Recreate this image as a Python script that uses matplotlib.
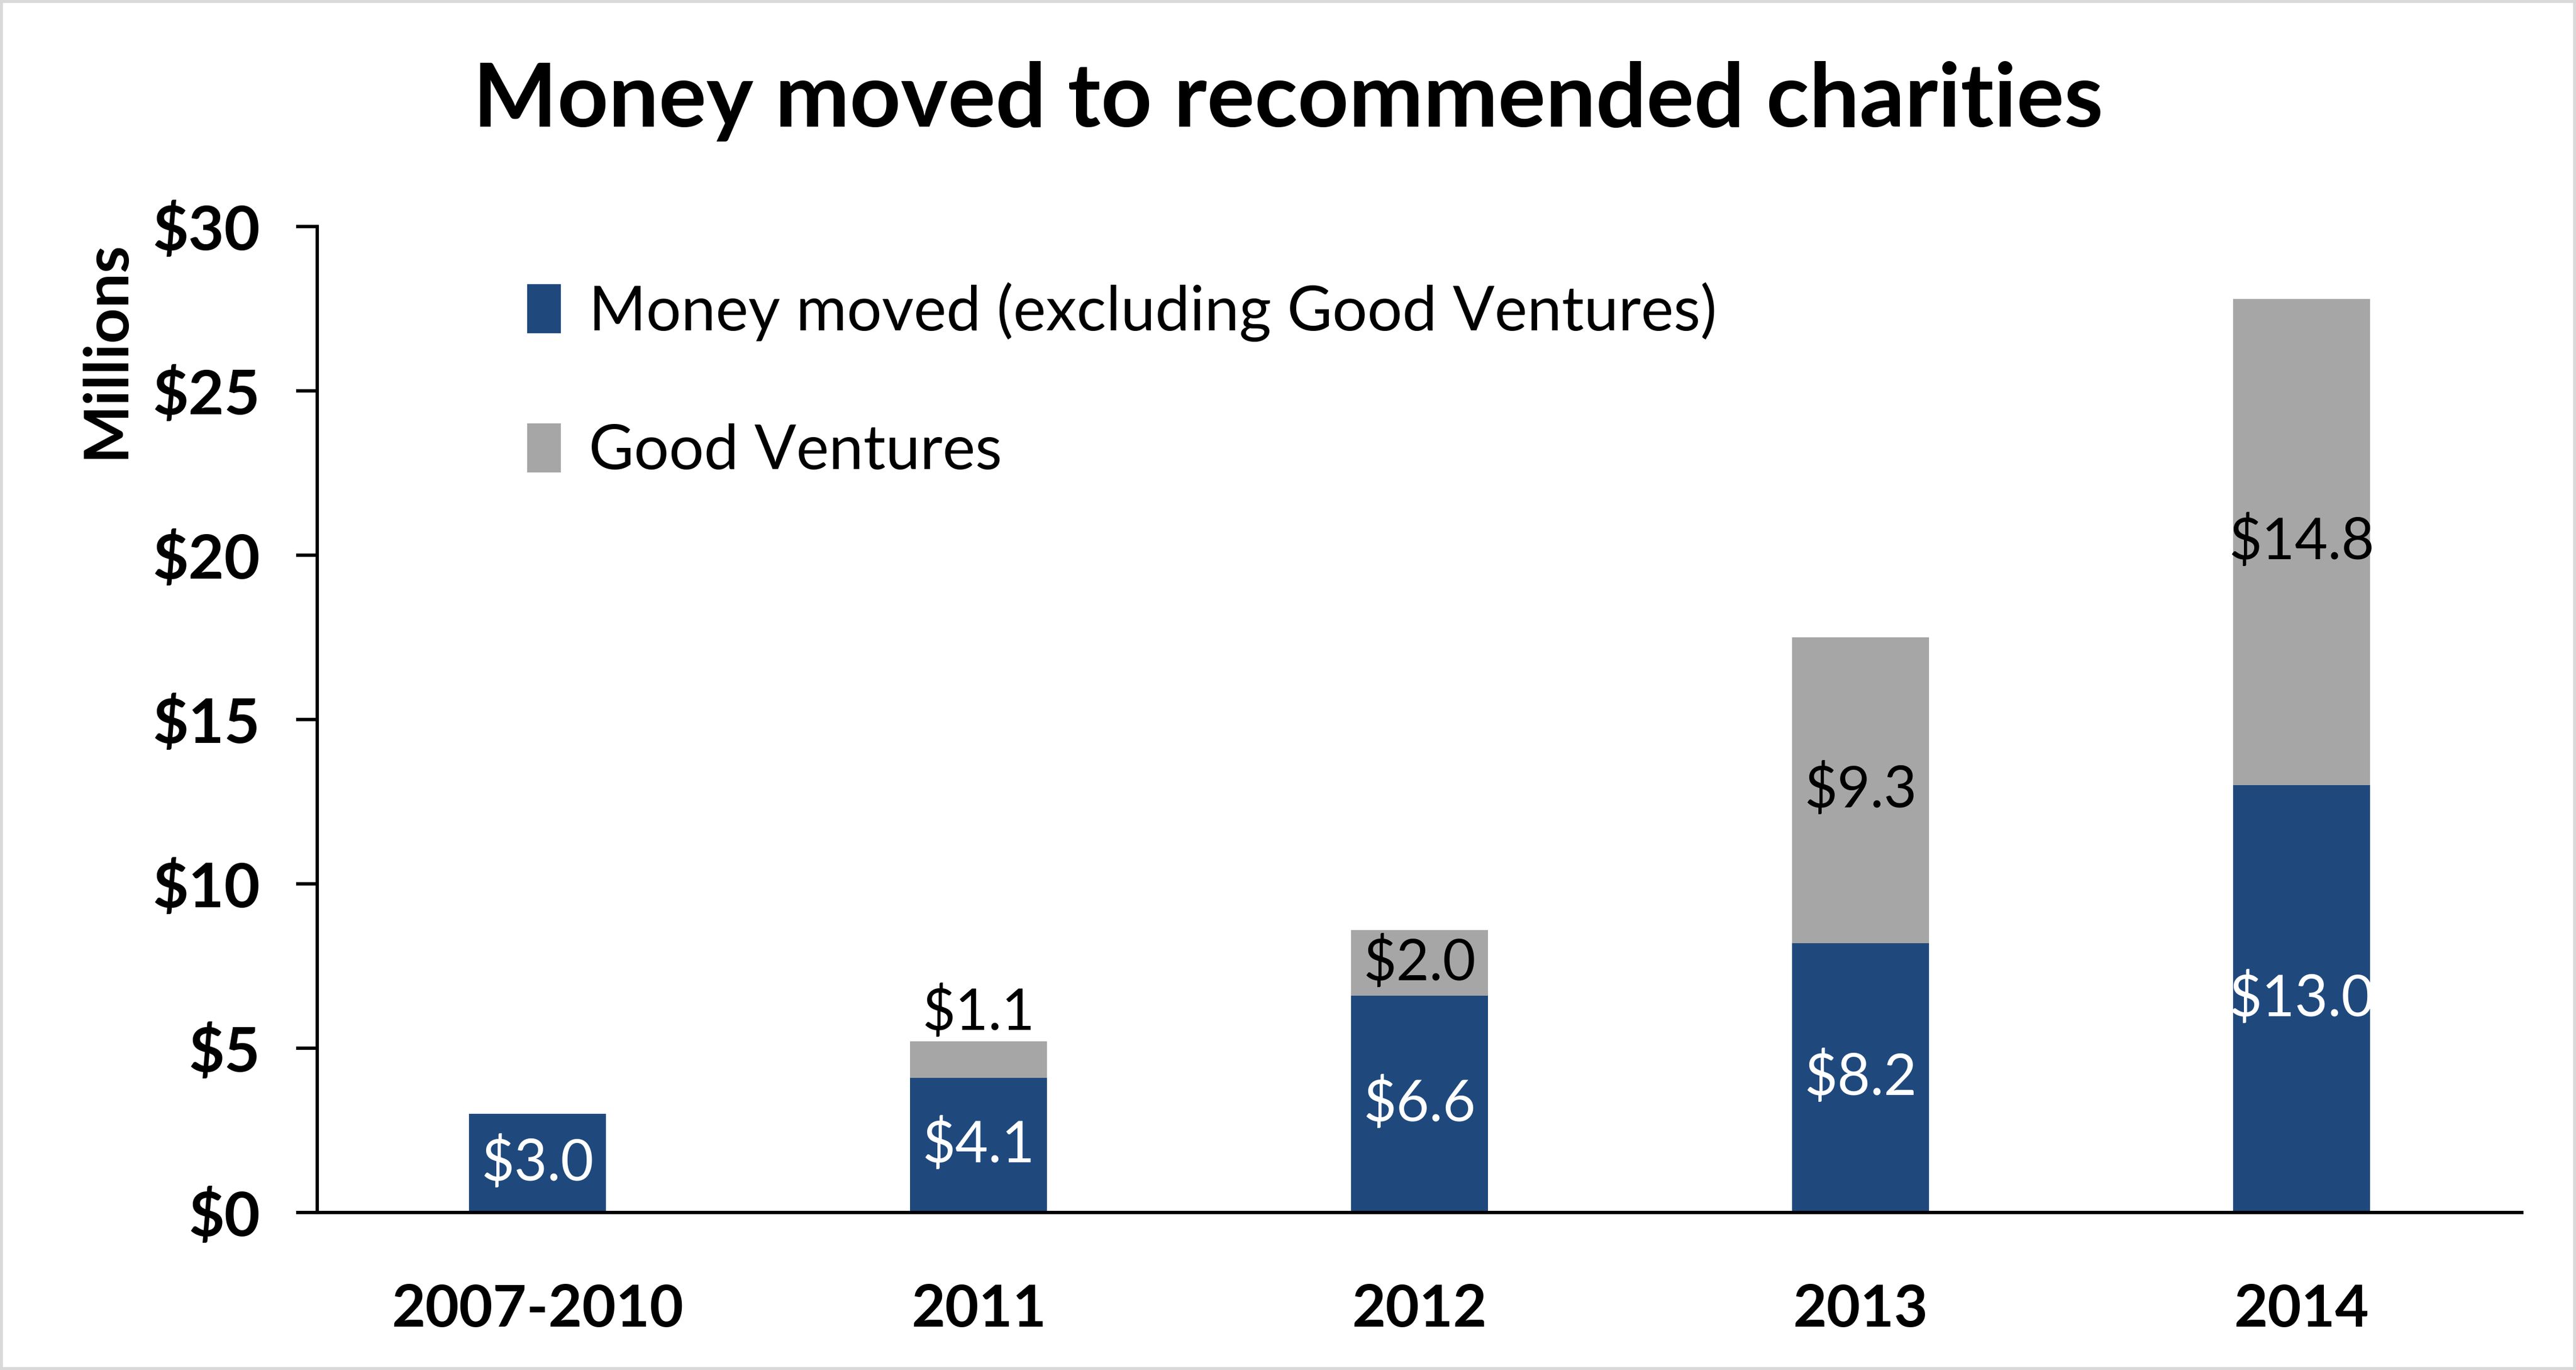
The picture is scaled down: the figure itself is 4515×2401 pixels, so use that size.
import numpy as np
import matplotlib.pyplot as plt
from matplotlib.patches import Rectangle

plt.rcParams['font.family'] = ['Lato', 'DejaVu Sans']

years = ['2007-2010', '2011', '2012', '2013', '2014']
excl_gv = [3.0, 4.1, 6.6, 8.2, 13.0]
good_ventures = [0.0, 1.1, 2.0, 9.3, 14.8]
yticks = [0, 5, 10, 15, 20, 25, 30]

blue = '#1f497d'
grey = '#a6a6a6'

fig = plt.figure(figsize=(4515 / 300, 2401 / 300), dpi=300)
ax = fig.add_axes([0.1231, 0.115, 0.979 - 0.1231, 0.8347 - 0.115])

x = np.arange(len(years))
w = 0.31
b1 = ax.bar(x, excl_gv, w, color=blue, label='Money moved (excluding Good Ventures)')
b2 = ax.bar(x, good_ventures, w, bottom=excl_gv, color=grey, label='Good Ventures')

for i in range(len(years)):
    ax.text(x[i], excl_gv[i] / 2, f'${excl_gv[i]:.1f}', color='white',
            ha='center', va='center', fontsize=24)
    g = good_ventures[i]
    if g == 0:
        continue
    if g < 1.5:
        # too thin, put label above the bar
        ax.text(x[i], excl_gv[i] + g + 0.05, f'${g:.1f}', color='black',
                ha='center', va='bottom', fontsize=24)
    else:
        ax.text(x[i], excl_gv[i] + g / 2, f'${g:.1f}', color='black',
                ha='center', va='center', fontsize=24)

ax.set_xlim(-0.5, 4.5)
ax.set_ylim(0, 30)
ax.set_yticks(yticks)
ax.set_yticklabels([f'${t}' for t in yticks], fontsize=26, fontweight='bold')
ax.set_xticks(x)
ax.set_xticklabels(years, fontsize=24.5, fontweight='bold')
ax.tick_params(axis='x', length=0, pad=30)
ax.tick_params(axis='y', length=9, width=1.4, pad=15)
for s in ['top', 'right']:
    ax.spines[s].set_visible(False)
for s in ['left', 'bottom']:
    ax.spines[s].set_linewidth(1.4)

ax.set_ylabel('Millions', fontsize=26, fontweight='bold')
ax.yaxis.set_label_coords(-0.083, 0.875)

leg = ax.legend(loc='upper left', bbox_to_anchor=(0.07, 1.0), frameon=False,
                fontsize=26, handlelength=0.55, handleheight=0.85,
                handletextpad=0.45, labelspacing=1.32)

fig.text(0.5, 0.926, 'Money moved to recommended charities', ha='center', va='center',
         fontsize=37.5, fontweight='bold')

fig.patches.append(Rectangle((0, 0), 1, 1, transform=fig.transFigure, fill=False,
                             edgecolor='#d9d9d9', linewidth=2.5))

fig.savefig('out.png', dpi=300, facecolor='white')
